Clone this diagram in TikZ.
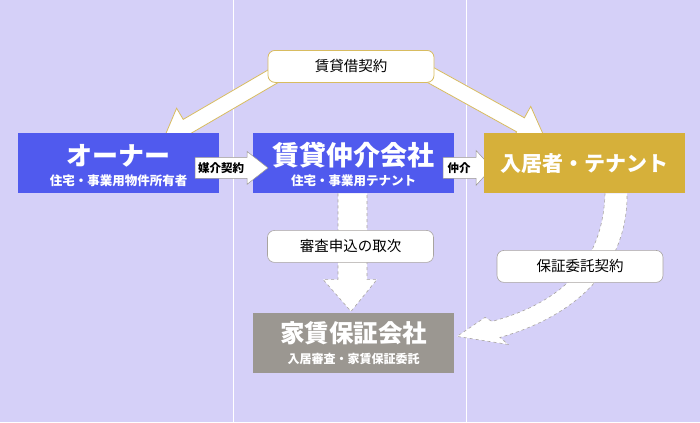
\documentclass[tikz,border=0pt]{standalone}
\usepackage{fontspec}
\setmainfont{Noto Sans CJK JP}
\definecolor{bg}{HTML}{D5D0F8}
\definecolor{blu}{HTML}{505AEE}
\definecolor{gld}{HTML}{D6B03A}
\definecolor{gry}{HTML}{9B9791}
\definecolor{lgld}{HTML}{D8BC60}
\definecolor{lgry}{HTML}{A8A4A0}
\begin{document}
\begin{tikzpicture}[x=1pt,y=-1pt,
  box/.style={minimum width=201pt,minimum height=60pt,inner sep=0pt},
  ttl/.style={text=white,inner sep=0pt,font=\bfseries},
  lab/.style={fill=white,rounded corners=7pt,minimum width=166pt,minimum height=32pt,inner sep=0pt,font=\fontsize{14.5}{16}\selectfont},
  bigarr/.style={fill=white,draw=lgld,line width=0.8pt,line join=miter}]
\fill[bg] (0,0) rectangle (700,422);
\draw[white,line width=0.8pt] (233,0) -- (233,422) (466,0) -- (466,422);
% big contract arrows
\draw[bigarr] (294.0,72.9) -- (191.2,132.8) -- (197.8,144.0) -- (163,140) -- (176.6,107.8) -- (183.2,119.0) -- (286.0,59.1) -- cycle;
\draw[bigarr] (411.1,73.0) -- (516.6,131.4) -- (510.3,142.8) -- (545,138) -- (530.7,106.0) -- (524.4,117.4) -- (418.9,59.0) -- cycle;
\node[lab,draw=lgld,line width=0.8pt] (l1) at (351,66) {賃貸借契約};
% dashed down arrow
\draw[lgry,dashed,fill=white,line width=0.6pt] (338,193) -- (338,279) -- (323,279) -- (351,311) -- (377,279) -- (367,279) -- (367,193);
% curved arrow
\draw[lgry,dashed,fill=white,line width=0.6pt] (605,193) .. controls (603,262) and (562,302) .. (492,321) -- (485,317) -- (457,336) -- (508,344) -- (500,337) .. controls (578,315) and (628,265) .. (627,193);
% boxes
\node[box,fill=blu] (own) at (118.5,163) {};
\node[ttl,font=\bfseries\fontsize{26}{28}\selectfont] (ownt) at (118.5,155) {オーナー};
\node[ttl,font=\bfseries\fontsize{12.5}{14}\selectfont] (owns) at (118.5,180) {住宅・事業用物件所有者};
\node[box,fill=blu] (bro) at (353.5,163) {};
\node[ttl,font=\bfseries\fontsize{27}{29}\selectfont] (brot) at (353.5,155) {賃貸仲介会社};
\node[ttl,font=\bfseries\fontsize{12.5}{14}\selectfont] (bros) at (353.5,180) {住宅・事業用テナント};
% small arrows
\draw[fill=white,draw=gry,line width=0.5pt] (443,157) -- (476,157) -- (476,150) -- (492,167.5) -- (476,185) -- (476,178) -- (443,178) -- cycle;
\node[font=\fontsize{11.5}{13}\selectfont\bfseries] (t2) at (459,167.5) {仲介};
\node[box,fill=gld] (ten) at (584.5,163) {};
\node[ttl,font=\bfseries\fontsize{21}{23}\selectfont] (tent) at (584.5,163) {入居者・テナント};
\draw[fill=white,draw=gry,line width=0.5pt] (195,157) -- (247,157) -- (247,151) -- (268,167.5) -- (247,184) -- (247,178) -- (195,178) -- cycle;
\node[font=\fontsize{11.5}{13}\selectfont\bfseries] (t1) at (221,167.5) {媒介契約};
\node[box,fill=gry] (gua) at (353.5,343) {};
\node[ttl,font=\bfseries\fontsize{24.5}{26}\selectfont] (guat) at (353.5,333) {家賃保証会社};
\node[ttl,font=\bfseries\fontsize{12}{13}\selectfont] (guas) at (353.5,359) {入居審査・家賃保証委託};
\node[lab,draw=lgry,line width=0.6pt] (l2) at (350.5,246) {審査申込の取次};
\node[lab,draw=lgry,line width=0.6pt] (l3) at (580,266) {保証委託契約};
\end{tikzpicture}
\end{document}
